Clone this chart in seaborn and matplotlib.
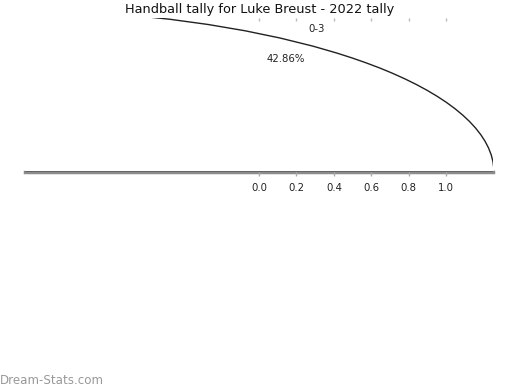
import matplotlib
matplotlib.use("Agg")
import matplotlib.pyplot as plt
import seaborn as sns

# ---- data ----
title = "Handball tally for Luke Breust - 2022 tally"
categories = ["0-3"]
shares_pct = [42.86]
xtick_values = [0.0, 0.2, 0.4, 0.6, 0.8, 1.0]
xtick_labels = ["0.0", "0.2", "0.4", "0.6", "0.8", "1.0"]
watermark = "Dream-Stats.com"

sns.set_theme(style="white")
plt.rcParams["font.family"] = ["DejaVu Sans"]

fig = plt.figure(figsize=(5.2, 3.9), dpi=100)
ax = fig.add_axes([25 / 520, 1 - 172 / 390, 468 / 520, 154 / 390])

fractions = [v / 100 for v in shares_pct]

# visible (displaced) wedge outline
ax.pie(fractions, normalize=False, startangle=0, counterclock=True,
       center=(-1.385, -1.25), radius=2.64, colors=["white"],
       wedgeprops=dict(edgecolor="#222222", linewidth=1.0, clip_on=True))
# label + percentage texts
ax.pie(fractions, normalize=False, labels=categories, autopct="%1.2f%%",
       startangle=-1, center=(0, 0), radius=1,
       labeldistance=1.11, pctdistance=0.6, colors=["none"],
       wedgeprops=dict(linewidth=0),
       textprops=dict(fontsize=7.3, color="#222222"))

ax.set_aspect("auto")
ax.set_xlim(-1.25, 1.25)
ax.set_ylim(-1.25, 1.25)
ax.set_frame_on(True)
for s in ["left", "right", "top"]:
    ax.spines[s].set_visible(False)
ax.spines["bottom"].set_color("#8c8c8c")
ax.spines["bottom"].set_linewidth(2.5)
ax.spines["bottom"].set_zorder(0.5)

ax.set_xticks(xtick_values, xtick_labels)
ax.set_yticks([])
ax.tick_params(axis="x", bottom=True, length=3, width=1, color="#aaaaaa",
               labelsize=7.3, labelcolor="#222222", pad=5)

sec = ax.secondary_xaxis("top")
sec.set_xticks(xtick_values)
sec.tick_params(direction="in", length=2, width=1, color="#bbbbbb",
                labeltop=False, labelbottom=False)
sec.spines["top"].set_visible(False)

fig.text(0.5, 1 - 9.5 / 390, title, ha="center", va="center",
         fontsize=9.3, color="#111111")
fig.text(0.0, 1 - 380 / 390, watermark, ha="left", va="center",
         fontsize=8.6, color="#999999")

fig.savefig("out.png", dpi=100)
